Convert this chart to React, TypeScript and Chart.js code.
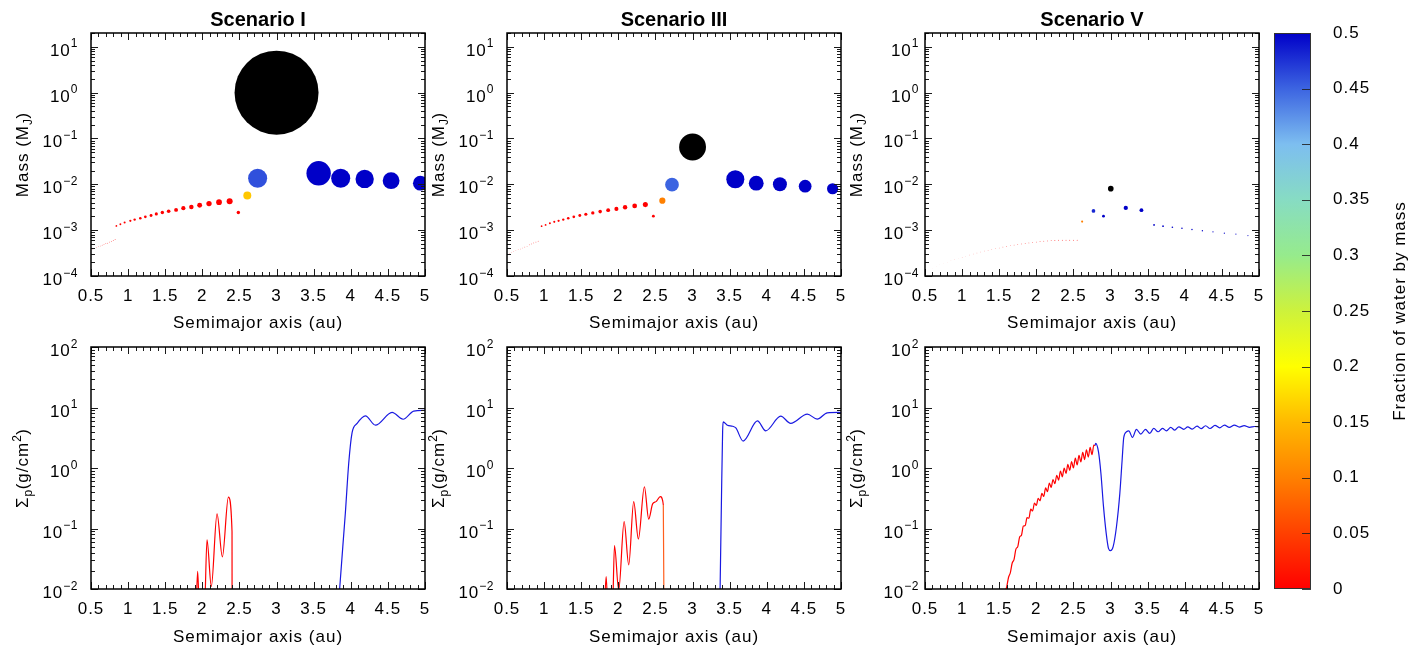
import React, { useEffect, useRef } from 'react';
import { Chart, registerables } from 'chart.js';

Chart.register(...registerables);

const FONT = '"Liberation Sans", Arial, Helvetica, sans-serif';
Chart.defaults.font.family = FONT;

// ---------------- text / tick labels ----------------
const PANEL_TITLES = ['Scenario I', 'Scenario III', 'Scenario V'];
const X_TITLE = 'Semimajor axis (au)';
const COLORBAR_TITLE = 'Fraction of water by mass';
const X_TICKS = [0.5, 1, 1.5, 2, 2.5, 3, 3.5, 4, 4.5, 5];
const MASS_Y_DECADES = [1, 0, -1, -2, -3, -4];
const SIGMA_Y_DECADES = [2, 1, 0, -1, -2];
const COLORBAR_TICKS = [0, 0.05, 0.1, 0.15, 0.2, 0.25, 0.3, 0.35, 0.4, 0.45, 0.5];

// ---------------- water-fraction palette ----------------
const WATER_STOPS = [0, 0.05, 0.1, 0.15, 0.2, 0.25, 0.3, 0.35, 0.4, 0.45, 0.5];
const WATER_RGB = [
  [255, 0, 0], [255, 64, 0], [255, 128, 0], [255, 185, 0], [255, 255, 0],
  [205, 242, 60], [150, 235, 140], [135, 220, 195], [125, 190, 240], [60, 100, 225], [0, 0, 200],
];

// ---------------- Scenario I : planets ----------------
const PLANETS_I_A = [0.5, 0.525, 0.55, 0.575, 0.6, 0.625, 0.65, 0.675, 0.7, 0.725, 0.75, 0.775, 0.8, 0.825,
  0.842, 0.896, 0.953, 1.03, 1.088, 1.164, 1.232, 1.309, 1.38, 1.461, 1.546, 1.646, 1.744, 1.852, 1.964, 2.09, 2.225, 2.368,
  2.485, 2.606, 2.745, 3.567, 3.864, 4.187, 4.543, 4.938];
const PLANETS_I_M = [3.7e-4, 3.9e-4, 4.0e-4, 4.2e-4, 4.4e-4, 4.5e-4, 4.7e-4, 4.9e-4, 5.1e-4, 5.2e-4, 5.5e-4, 5.7e-4, 5.9e-4, 6.2e-4,
  1.24e-3, 1.35e-3, 1.47e-3, 1.6e-3, 1.7e-3, 1.82e-3, 1.95e-3, 2.08e-3, 2.26e-3, 2.42e-3, 2.59e-3, 2.77e-3, 3.01e-3, 3.22e-3, 3.5e-3, 3.8e-3, 4.07e-3, 4.29e-3,
  2.42e-3, 5.7e-3, 0.0136, 0.0174, 0.0136, 0.0131, 0.012, 0.0106];
const PLANETS_I_W = [0, 0, 0, 0, 0, 0, 0, 0, 0, 0, 0, 0, 0, 0,
  0, 0, 0, 0, 0, 0, 0, 0, 0, 0, 0, 0, 0, 0, 0, 0, 0, 0,
  0, 0.16, 0.46, 0.5, 0.5, 0.5, 0.5, 0.5];
const GIANT_I_A = [3.0];
const GIANT_I_M = [1.0];

// ---------------- Scenario III : planets ----------------
const PLANETS_III_A = [0.5, 0.53, 0.56, 0.59, 0.62, 0.65, 0.68, 0.71, 0.74, 0.77, 0.8, 0.83, 0.86, 0.89, 0.92,
  0.966, 1.02, 1.078, 1.137, 1.195, 1.258, 1.325, 1.4, 1.481, 1.562, 1.656, 1.755, 1.863, 1.974, 2.091, 2.22, 2.364,
  2.472, 2.593, 2.723, 3.576, 3.858, 4.177, 4.517, 4.887];
const PLANETS_III_M = [2.95e-4, 3.09e-4, 3.24e-4, 3.39e-4, 3.55e-4, 3.72e-4, 3.89e-4, 4.07e-4, 4.27e-4, 4.47e-4, 4.79e-4, 5.01e-4, 5.25e-4, 5.5e-4, 5.75e-4,
  1.22e-3, 1.3e-3, 1.42e-3, 1.52e-3, 1.6e-3, 1.7e-3, 1.82e-3, 1.95e-3, 2.08e-3, 2.23e-3, 2.38e-3, 2.54e-3, 2.73e-3, 2.91e-3, 3.17e-3, 3.38e-3, 3.61e-3,
  2.02e-3, 4.4e-3, 9.8e-3, 0.0129, 0.0106, 0.01, 0.0091, 0.008];
const PLANETS_III_W = [0, 0, 0, 0, 0, 0, 0, 0, 0, 0, 0, 0, 0, 0, 0,
  0, 0, 0, 0, 0, 0, 0, 0, 0, 0, 0, 0, 0, 0, 0, 0, 0,
  0, 0.1, 0.45, 0.5, 0.5, 0.5, 0.5, 0.5];
const GIANT_III_A = [3.0];
const GIANT_III_M = [0.065];

// ---------------- Scenario V : planets ----------------
const PLANETS_V_A = [0.6, 0.65, 0.7, 0.75, 0.8, 0.85, 0.9, 0.95, 1.0, 1.05, 1.1, 1.15, 1.2, 1.25, 1.3, 1.35, 1.4, 1.45, 1.5, 1.55,
  1.6, 1.65, 1.7, 1.75, 1.8, 1.85, 1.9, 1.95, 2.0, 2.05, 2.1, 2.15, 2.2, 2.25, 2.3, 2.35, 2.4, 2.45, 2.5, 2.55,
  2.617, 2.77, 2.905, 3.205, 3.416,
  3.586, 3.707, 3.833, 3.962, 4.097, 4.237, 4.38, 4.533, 4.689, 4.851];
const PLANETS_V_M = [1.48e-4, 1.62e-4, 1.74e-4, 1.86e-4, 2.0e-4, 2.14e-4, 2.29e-4, 2.45e-4, 2.57e-4, 2.72e-4, 2.88e-4, 3.02e-4, 3.16e-4, 3.35e-4, 3.51e-4, 3.63e-4, 3.8e-4, 3.94e-4, 4.07e-4, 4.27e-4,
  4.42e-4, 4.57e-4, 4.73e-4, 4.9e-4, 5.01e-4, 5.13e-4, 5.25e-4, 5.37e-4, 5.5e-4, 5.62e-4, 5.75e-4, 5.82e-4, 5.89e-4, 5.96e-4, 6.03e-4, 6.03e-4, 6.03e-4, 6.03e-4, 6.03e-4, 6.03e-4,
  1.54e-3, 2.63e-3, 2.02e-3, 3.06e-3, 2.73e-3,
  1.3e-3, 1.22e-3, 1.16e-3, 1.1e-3, 1.03e-3, 9.7e-4, 9.2e-4, 8.6e-4, 8.2e-4, 7.6e-4];
const PLANETS_V_W = [0, 0, 0, 0, 0, 0, 0, 0, 0, 0, 0, 0, 0, 0, 0, 0, 0, 0, 0, 0,
  0, 0, 0, 0, 0, 0, 0, 0, 0, 0, 0, 0, 0, 0, 0, 0, 0, 0, 0, 0,
  0.1, 0.48, 0.5, 0.5, 0.5,
  0.5, 0.5, 0.5, 0.5, 0.5, 0.5, 0.5, 0.5, 0.5, 0.5];
const GIANT_V_A = [3.003];
const GIANT_V_M = [8.05e-3];

// ---------------- surface density profiles (g/cm^2) ----------------
const SIGMA_I_RED_A = [1.915, 1.937, 1.962, 2.027, 2.063, 2.121, 2.198, 2.27, 2.351, 2.4, 2.401];
const SIGMA_I_RED_S = [0.004, 0.0195, 0.004, 0.004, 0.065, 0.011, 0.175, 0.034, 0.33, 0.089, 0.002];
const SIGMA_I_BLUE_A = [3.83, 3.85, 3.927, 3.972, 4.017, 4.085, 4.197, 4.332, 4.556, 4.705, 4.848, 5.0];
const SIGMA_I_BLUE_S = [0.004, 0.01, 0.18, 1.19, 3.82, 5.46, 7.28, 5.1, 8.3, 6.4, 8.7, 9.0];

const SIGMA_III_RED_A = [1.81, 1.836, 1.862, 1.92, 1.948, 2.005, 2.078, 2.14, 2.207, 2.27, 2.351, 2.409, 2.462, 2.508, 2.566, 2.606, 2.615];
const SIGMA_III_RED_S = [0.004, 0.016, 0.004, 0.004, 0.052, 0.0095, 0.13, 0.025, 0.278, 0.067, 0.49, 0.143, 0.255, 0.278, 0.336, 0.245, 0.003];
const SIGMA_III_BLUE_A = [3.365, 3.37, 3.39, 3.405, 3.412, 3.47, 3.54, 3.583, 3.681, 3.874, 3.986, 4.188, 4.322, 4.546, 4.68, 4.815, 4.972, 5.0];
const SIGMA_III_BLUE_S = [0.003, 0.008, 0.34, 4.0, 5.8, 5.1, 4.9, 4.6, 2.79, 6.0, 4.12, 7.2, 5.46, 7.76, 6.43, 8.17, 8.28, 8.2];

const SIGMA_V_RED_A = [1.55, 1.575, 1.6, 1.625, 1.65, 1.675, 1.7, 1.725, 1.75, 1.775, 1.8, 1.825, 1.85, 1.875, 1.9, 1.925, 1.95, 1.975,
  2.0, 2.025, 2.05, 2.075, 2.1, 2.125, 2.15, 2.175, 2.2, 2.225, 2.25, 2.275, 2.3, 2.325, 2.35, 2.375, 2.4, 2.425, 2.45, 2.475,
  2.5, 2.525, 2.55, 2.575, 2.6, 2.625, 2.65, 2.675, 2.7, 2.725, 2.75, 2.775, 2.79];
const SIGMA_V_RED_S = [0.005, 0.0087, 0.0107, 0.0155, 0.0186, 0.0269, 0.0309, 0.0457, 0.0501, 0.0724, 0.0776, 0.1096, 0.112, 0.151, 0.148, 0.209, 0.195, 0.263,
  0.24, 0.316, 0.288, 0.38, 0.339, 0.468, 0.407, 0.562, 0.479, 0.646, 0.55, 0.759, 0.631, 0.891, 0.716, 1.0, 0.813, 1.148, 0.912, 1.274,
  1.0, 1.462, 1.122, 1.622, 1.259, 1.82, 1.38, 1.995, 1.514, 2.188, 1.66, 2.399, 2.34];
const SIGMA_V_BLUE_A = [2.79, 2.8, 2.837, 2.87, 2.905, 2.941, 2.972, 3.0, 3.035, 3.08, 3.125, 3.156, 3.178, 3.215, 3.246, 3.295, 3.349, 3.407, 3.47, 3.528,
  3.582, 3.64, 3.7, 3.753, 3.811, 3.865, 3.92, 3.986, 4.04, 4.1, 4.165, 4.22, 4.28, 4.34, 4.407, 4.47, 4.535, 4.6, 4.668, 4.735,
  4.8, 4.874, 4.94, 5.0];
const SIGMA_V_BLUE_S = [2.34, 2.55, 1.86, 0.82, 0.23, 0.084, 0.047, 0.043, 0.05, 0.108, 0.38, 1.36, 3.2, 3.97, 4.12, 3.2, 4.35, 3.63, 4.35, 3.73,
  4.52, 3.97, 4.52, 4.12, 4.69, 4.23, 4.8, 4.35, 4.8, 4.4, 4.92, 4.47, 4.99, 4.5, 5.06, 4.62, 5.13, 4.68, 5.13, 4.73,
  5.01, 4.69, 4.85, 4.8];

// ---------------- styling helpers ----------------
type Piece = { t: string; size: number; dy: number };
const MASS_TITLE: Piece[] = [
  { t: 'Mass (M', size: 17, dy: 0 }, { t: 'J', size: 12, dy: 4 }, { t: ')', size: 17, dy: 0 },
];
const SIGMA_TITLE: Piece[] = [
  { t: 'Σ', size: 17, dy: 0 }, { t: 'p', size: 12, dy: 4 }, { t: '(g/cm', size: 17, dy: 0 },
  { t: '2', size: 12, dy: -7 }, { t: ')', size: 17, dy: 0 },
];

const AREA_LEFT = [91, 507, 925];
const AREA_TOP = [33, 347];
const AREA_H = [243, 242];
const XAXIS_H = [58, 59];
const PAD_LEFT = 91;
const PAD_TOP = 44; // must exceed the largest bubble radius (Chart.js min padding)
const PAD_RIGHT = 44;
const AREA_W = 334;
const LABEL_GAP = [13, 13, 6];
const CORE_PX_PER_MJ = 700;
const RED_LINE = 'rgb(255,0,0)';
const BLUE_LINE = 'rgb(25,25,225)';

function lerpColor(w: number): number[] {
  const v = Math.max(0, Math.min(0.5, w));
  for (let i = 0; i < WATER_STOPS.length - 1; i++) {
    if (v <= WATER_STOPS[i + 1]) {
      const t = (v - WATER_STOPS[i]) / (WATER_STOPS[i + 1] - WATER_STOPS[i]);
      return WATER_RGB[i].map((c, k) => Math.round(c + (WATER_RGB[i + 1][k] - c) * t));
    }
  }
  return WATER_RGB[WATER_RGB.length - 1];
}
function waterColor(w: number) {
  const c = lerpColor(w);
  return `rgb(${c[0]},${c[1]},${c[2]})`;
}
function coreRadius(m: number) {
  return CORE_PX_PER_MJ * (m || 0);
}
function giantRadius(m: number) {
  const L = Math.log10(m);
  return L >= -1.222 ? 42 * Math.pow(10, 0.417 * L) : 13 * Math.pow(10, 0.762 * (L + 1.222));
}

function drawRich(ctx: any, pieces: Piece[], cx: number, cy: number, rotate: boolean) {
  ctx.save();
  ctx.translate(cx, cy);
  if (rotate) ctx.rotate(-Math.PI / 2);
  ctx.textAlign = 'left';
  ctx.textBaseline = 'alphabetic';
  const widths: number[] = [];
  let total = 0;
  for (const p of pieces) {
    ctx.font = `${p.size}px ${FONT}`;
    ctx.letterSpacing = p.size >= 15 ? '1px' : '0.5px';
    const w = ctx.measureText(p.t).width;
    widths.push(w);
    total += w;
  }
  let x = -total / 2;
  pieces.forEach((p, i) => {
    ctx.font = `${p.size}px ${FONT}`;
    ctx.letterSpacing = p.size >= 15 ? '1px' : '0.5px';
    ctx.fillText(p.t, x, 6 + p.dy);
    x += widths[i];
  });
  ctx.restore();
}

type PanelSpec = {
  row: number;
  col: number;
  datasets: any[];
  yMin: number;
  yMax: number;
  decades: number[];
  yTitle: Piece[];
  title?: string;
};

function makeDecor(p: PanelSpec) {
  return {
    id: 'panelDecor',
    beforeDraw(chart: any) {
      chart.ctx.letterSpacing = '1px';
    },
    afterDraw(chart: any) {
      const ctx = chart.ctx;
      const a = chart.chartArea;
      const xs = chart.scales.x;
      const ys = chart.scales.y;
      ctx.save();
      // inner tick marks on all four sides
      ctx.strokeStyle = '#1a1a1a';
      ctx.lineWidth = 1;
      ctx.beginPath();
      for (let k = 5; k <= 50; k++) {
        const px = Math.round(xs.getPixelForValue(k / 10)) + 0.5;
        const len = k % 5 === 0 ? 7 : 4;
        ctx.moveTo(px, a.bottom);
        ctx.lineTo(px, a.bottom - len);
        ctx.moveTo(px, a.top);
        ctx.lineTo(px, a.top + len);
      }
      const d0 = Math.floor(Math.log10(p.yMin));
      const d1 = Math.ceil(Math.log10(p.yMax));
      for (let d = d0; d <= d1; d++) {
        for (let k = 1; k <= 9; k++) {
          const v = k * Math.pow(10, d);
          if (v < p.yMin * 0.999 || v > p.yMax * 1.001) continue;
          const py = Math.round(ys.getPixelForValue(v)) + 0.5;
          const len = k === 1 ? 7 : 4;
          ctx.moveTo(a.left, py);
          ctx.lineTo(a.left + len, py);
          ctx.moveTo(a.right, py);
          ctx.lineTo(a.right - len, py);
        }
      }
      ctx.stroke();
      ctx.strokeStyle = '#000';
      ctx.lineWidth = 1.5;
      ctx.strokeRect(a.left, a.top, a.right - a.left, a.bottom - a.top);

      // y tick labels 10^n
      ctx.fillStyle = '#000';
      ctx.textAlign = 'left';
      ctx.textBaseline = 'alphabetic';
      for (const d of p.decades) {
        const py = ys.getPixelForValue(Math.pow(10, d));
        const exp = d < 0 ? '\u2212' + String(-d) : String(d);
        ctx.font = `17px ${FONT}`;
        ctx.letterSpacing = '1px';
        const wb = ctx.measureText('10').width;
        ctx.font = `12px ${FONT}`;
        ctx.letterSpacing = '0.5px';
        const we = ctx.measureText(exp).width;
        const x0 = a.left - LABEL_GAP[p.col] - we - wb;
        ctx.font = `17px ${FONT}`;
        ctx.letterSpacing = '1px';
        ctx.fillText('10', x0, py + 9);
        ctx.font = `12px ${FONT}`;
        ctx.letterSpacing = '0.5px';
        ctx.fillText(exp, x0 + wb, py + 0.5);
      }

      // y axis title
      drawRich(ctx, p.yTitle, a.left - 69, (a.top + a.bottom) / 2, true);

      // panel title
      if (p.title) {
        ctx.font = `bold 20px ${FONT}`;
        ctx.letterSpacing = '0px';
        ctx.textAlign = 'center';
        ctx.textBaseline = 'alphabetic';
        ctx.fillText(p.title, (a.left + a.right) / 2, a.top - 7.5);
      }
      ctx.restore();
    },
  };
}

function panelConfig(p: PanelSpec): any {
  const H = XAXIS_H[p.row];
  return {
    type: 'scatter',
    data: { datasets: p.datasets },
    options: {
      animation: false,
      responsive: true,
      maintainAspectRatio: false,
      events: [],
      layout: { padding: { left: PAD_LEFT, right: PAD_RIGHT, top: PAD_TOP, bottom: 0 } },
      plugins: { legend: { display: false }, tooltip: { enabled: false }, title: { display: false } },
      scales: {
        x: {
          type: 'linear',
          position: 'bottom',
          min: 0.5,
          max: 5,
          afterBuildTicks: (s: any) => {
            s.ticks = X_TICKS.map((v) => ({ value: v }));
          },
          ticks: {
            autoSkip: false,
            maxRotation: 0,
            padding: 10,
            color: '#000',
            font: { family: FONT, size: 17 },
            callback: (v: any) => String(v),
          },
          grid: { display: false, drawTicks: false },
          border: { display: false },
          title: { display: true, text: X_TITLE, color: '#000', font: { family: FONT, size: 17 }, padding: 0 },
          afterFit: (s: any) => {
            s.height = H;
          },
        },
        y: { type: 'logarithmic', min: p.yMin, max: p.yMax, display: false },
      },
    },
    plugins: [makeDecor(p)],
  };
}

function planetDatasets(a: number[], m: number[], w: number[], ga: number[], gm: number[]) {
  return [
    {
      data: a.map((x, i) => ({ x, y: m[i] })),
      pointRadius: (c: any) => coreRadius(m[c.dataIndex]),
      pointHoverRadius: (c: any) => coreRadius(m[c.dataIndex]),
      pointBackgroundColor: (c: any) => waterColor(w[c.dataIndex] ?? 0),
      pointBorderWidth: 0,
      clip: 0,
    },
    {
      data: ga.map((x, i) => ({ x, y: gm[i] })),
      pointRadius: (c: any) => giantRadius(gm[c.dataIndex] ?? 1),
      pointHoverRadius: (c: any) => giantRadius(gm[c.dataIndex] ?? 1),
      pointBackgroundColor: '#000',
      pointBorderWidth: 0,
      clip: 0,
    },
  ];
}

function sigmaDatasets(ra: number[], rs: number[], ba: number[], bs: number[], orangeFrom?: number) {
  return [
    {
      data: ra.map((x, i) => ({ x, y: rs[i] })),
      showLine: true,
      pointRadius: 0,
      borderColor: RED_LINE,
      borderWidth: 1.2,
      cubicInterpolationMode: 'monotone',
      clip: 0,
      segment: {
        borderColor: (c: any) =>
          orangeFrom !== undefined && c.p0.parsed.x >= orangeFrom ? 'rgb(255,95,30)' : undefined,
      },
    },
    {
      data: ba.map((x, i) => ({ x, y: bs[i] })),
      showLine: true,
      pointRadius: 0,
      borderColor: BLUE_LINE,
      borderWidth: 1.2,
      cubicInterpolationMode: 'monotone',
      clip: 0,
    },
  ];
}

const PANELS: PanelSpec[] = [
  { row: 0, col: 0, title: PANEL_TITLES[0], yMin: 1e-4, yMax: 20, decades: MASS_Y_DECADES, yTitle: MASS_TITLE,
    datasets: planetDatasets(PLANETS_I_A, PLANETS_I_M, PLANETS_I_W, GIANT_I_A, GIANT_I_M) },
  { row: 0, col: 1, title: PANEL_TITLES[1], yMin: 1e-4, yMax: 20, decades: MASS_Y_DECADES, yTitle: MASS_TITLE,
    datasets: planetDatasets(PLANETS_III_A, PLANETS_III_M, PLANETS_III_W, GIANT_III_A, GIANT_III_M) },
  { row: 0, col: 2, title: PANEL_TITLES[2], yMin: 1e-4, yMax: 20, decades: MASS_Y_DECADES, yTitle: MASS_TITLE,
    datasets: planetDatasets(PLANETS_V_A, PLANETS_V_M, PLANETS_V_W, GIANT_V_A, GIANT_V_M) },
  { row: 1, col: 0, yMin: 0.01, yMax: 100, decades: SIGMA_Y_DECADES, yTitle: SIGMA_TITLE,
    datasets: sigmaDatasets(SIGMA_I_RED_A, SIGMA_I_RED_S, SIGMA_I_BLUE_A, SIGMA_I_BLUE_S) },
  { row: 1, col: 1, yMin: 0.01, yMax: 100, decades: SIGMA_Y_DECADES, yTitle: SIGMA_TITLE,
    datasets: sigmaDatasets(SIGMA_III_RED_A, SIGMA_III_RED_S, SIGMA_III_BLUE_A, SIGMA_III_BLUE_S, 2.6) },
  { row: 1, col: 2, yMin: 0.01, yMax: 100, decades: SIGMA_Y_DECADES, yTitle: SIGMA_TITLE,
    datasets: sigmaDatasets(SIGMA_V_RED_A, SIGMA_V_RED_S, SIGMA_V_BLUE_A, SIGMA_V_BLUE_S) },
];

const colorbarPlugin = {
  id: 'colorbarDecor',
  beforeDraw(chart: any) {
    chart.ctx.letterSpacing = '1px';
  },
  afterDraw(chart: any) {
    const ctx = chart.ctx;
    const a = chart.chartArea;
    const ys = chart.scales.y;
    ctx.save();
    const g = ctx.createLinearGradient(0, ys.getPixelForValue(0), 0, ys.getPixelForValue(0.5));
    WATER_STOPS.forEach((w) => g.addColorStop(w / 0.5, waterColor(w)));
    ctx.fillStyle = g;
    ctx.fillRect(a.left, a.top, a.right - a.left, a.bottom - a.top);
    ctx.strokeStyle = 'rgba(30,30,30,0.85)';
    ctx.lineWidth = 1;
    ctx.beginPath();
    for (const v of COLORBAR_TICKS) {
      const py = Math.round(ys.getPixelForValue(v)) + 0.5;
      ctx.moveTo(a.right, py);
      ctx.lineTo(a.right - 9, py);
    }
    ctx.stroke();
    ctx.strokeStyle = '#333';
    ctx.strokeRect(a.left + 0.5, a.top + 0.5, a.right - a.left - 1, a.bottom - a.top - 1);
    ctx.fillStyle = '#000';
    drawRich(ctx, [{ t: COLORBAR_TITLE, size: 17, dy: 0 }], 199, (a.top + a.bottom) / 2, true);
    ctx.restore();
  },
};

function colorbarConfig(): any {
  return {
    type: 'scatter',
    data: { datasets: [] },
    options: {
      animation: false,
      responsive: true,
      maintainAspectRatio: false,
      events: [],
      layout: { padding: { left: 74, top: 33, bottom: 61, right: 0 } },
      plugins: { legend: { display: false }, tooltip: { enabled: false }, title: { display: false } },
      scales: {
        x: { type: 'linear', display: false, min: 0, max: 1 },
        y: {
          type: 'linear',
          position: 'right',
          min: 0,
          max: 0.5,
          afterBuildTicks: (s: any) => {
            s.ticks = COLORBAR_TICKS.map((v) => ({ value: v }));
          },
          ticks: {
            autoSkip: false,
            padding: 22,
            color: '#000',
            font: { family: FONT, size: 17 },
            callback: (v: any) => String(v),
          },
          grid: { display: false, drawTicks: false },
          border: { display: false },
          afterFit: (s: any) => {
            s.width = 100;
          },
        },
      },
    },
    plugins: [colorbarPlugin],
  };
}

function ChartBox(props: { left: number; top: number; width: number; height: number; make: () => any }) {
  const ref = useRef<HTMLCanvasElement>(null);
  useEffect(() => {
    if (!ref.current) return;
    const chart = new Chart(ref.current, props.make());
    return () => chart.destroy();
  }, []);
  return (
    <div style={{ position: 'absolute', left: props.left, top: props.top, width: props.width, height: props.height }}>
      <canvas ref={ref} />
    </div>
  );
}

export default function App() {
  return (
    <div style={{ position: 'absolute', left: 0, top: 0, width: 1411, height: 650, background: '#fff', overflow: 'hidden' }}>
      {PANELS.map((p, i) => (
        <ChartBox
          key={i}
          left={AREA_LEFT[p.col] - PAD_LEFT}
          top={AREA_TOP[p.row] - PAD_TOP}
          width={PAD_LEFT + AREA_W + PAD_RIGHT}
          height={PAD_TOP + AREA_H[p.row] + XAXIS_H[p.row]}
          make={() => panelConfig(p)}
        />
      ))}
      <ChartBox left={1200} top={0} width={211} height={650} make={colorbarConfig} />
    </div>
  );
}
